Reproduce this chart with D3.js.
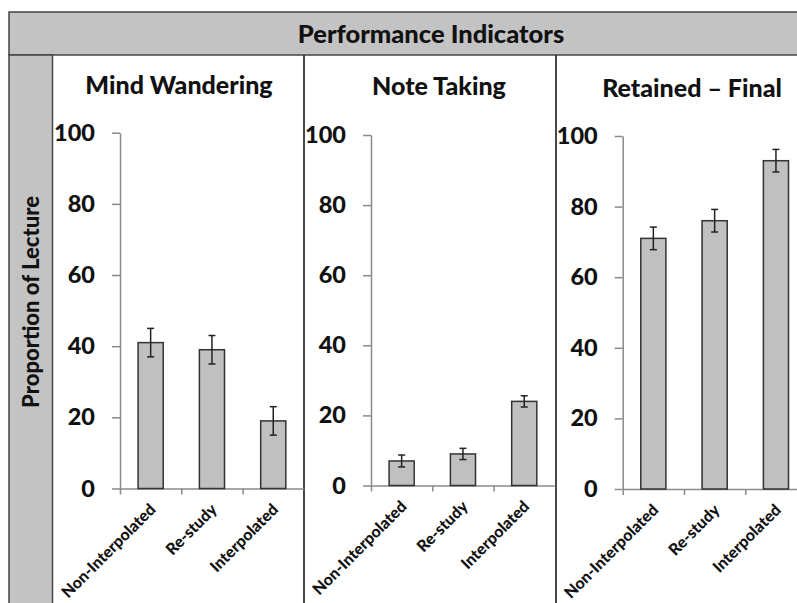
<!DOCTYPE html>
<html>
<head>
<meta charset="utf-8">
<script src="https://cdn.jsdelivr.net/npm/d3@7"></script>
<style>
  body { margin: 0; background: #fff; }
  text { font-family: Lato, "Open Sans", sans-serif; font-weight: 900; fill: #111; }
</style>
</head>
<body>
<div id="canvas"></div>
<script>
var categories = ["Non-Interpolated", "Re-study", "Interpolated"]
var panelTitles = ["Mind Wandering", "Note Taking", "Retained \u2013 Final"]
var mindWandering = [41, 39, 19]
var mindWanderingErr = [4, 4, 4]
var noteTaking = [7, 9, 24]
var noteTakingErr = [1.7, 1.6, 1.6]
var retainedFinal = [71, 76, 93]
var retainedFinalErr = [3.2, 3.2, 3.2]
var yTicks = [0, 20, 40, 60, 80, 100]

var width = 797
var height = 603

var series = [
    { values: mindWandering, errs: mindWanderingErr },
    { values: noteTaking, errs: noteTakingErr },
    { values: retainedFinal, errs: retainedFinalErr }
]

// where each panel sits: axis start, y for 0 and 100, title centre
var layout = [
    { x0: 120, y0: 488.5, y100: 132.7, titleX: 179, titleY: 94 },
    { x0: 371, y0: 485.5, y100: 135, titleX: 439, titleY: 95 },
    { x0: 622.7, y0: 489, y100: 136, titleX: 692, titleY: 96.5 }
]
var step = 61.3

var svg = d3.select("#canvas")
    .append("svg")
    .attr("width", width)
    .attr("height", height)

// header band + left strip
svg.append("rect")
    .attr("x", 9).attr("y", 12)
    .attr("width", width).attr("height", 43)
    .attr("fill", "#c3c3c3")
    .attr("stroke", "#444")
    .attr("stroke-width", 1.5)

svg.append("rect")
    .attr("x", 9).attr("y", 55)
    .attr("width", 43.5).attr("height", height)
    .attr("fill", "#c3c3c3")
    .attr("stroke", "#444")
    .attr("stroke-width", 1.5)

svg.append("text")
    .attr("x", 431).attr("y", 42.5)
    .attr("text-anchor", "middle")
    .style("font-size", "25.5px")
    .text("Performance Indicators")

svg.append("text")
    .attr("transform", "translate(39,302) rotate(-90)")
    .attr("text-anchor", "middle")
    .style("font-size", "22px")
    .text("Proportion of Lecture")

// panel dividers
;[304, 556].forEach(function (x) {
    svg.append("line")
        .attr("x1", x).attr("x2", x)
        .attr("y1", 55).attr("y2", height)
        .attr("stroke", "#333")
        .attr("stroke-width", 1.8)
})

series.forEach(function (s, i) {
    var L = layout[i]
    var g = svg.append("g")

    var yScale = d3.scaleLinear().domain([0, 100]).range([L.y0, L.y100])
    var xScale = d3.scaleBand().domain(categories)
        .range([L.x0, L.x0 + 3 * step])
        .paddingInner(0.59).paddingOuter(0.295)
    var xTickScale = d3.scaleLinear().domain([0, 3]).range([L.x0, L.x0 + 3 * step])

    var xAxis = g.append("g")
        .attr("transform", `translate(0,${L.y0})`)
        .call(d3.axisBottom(xTickScale)
            .tickValues([0, 1, 2])
            .tickFormat("")
            .tickSize(6)
            .tickSizeOuter(0))
    xAxis.selectAll("path, line").attr("stroke", "#8a8a8a").attr("stroke-width", 1.5)

    var yAxis = g.append("g")
        .attr("transform", `translate(${L.x0},0)`)
        .call(d3.axisLeft(yScale)
            .tickValues(yTicks)
            .tickSize(8)
            .tickPadding(17)
            .tickSizeOuter(0))
    yAxis.selectAll("path, line").attr("stroke", "#8a8a8a").attr("stroke-width", 1.5)
    yAxis.selectAll("text")
        .style("font-size", "23.5px")
        .style("font-family", "Lato, sans-serif")
        .style("font-weight", 900)
        .attr("fill", "#111")

    g.selectAll(".bar")
        .data(s.values)
        .enter()
        .append("rect")
        .attr("x", function (d, j) { return xScale(categories[j]) })
        .attr("y", function (d) { return yScale(d) })
        .attr("width", xScale.bandwidth())
        .attr("height", function (d) { return L.y0 - yScale(d) })
        .attr("fill", "#c0c0c0")
        .attr("stroke", "#333")
        .attr("stroke-width", 1.5)

    // error bars
    var err = g.selectAll(".err")
        .data(s.values)
        .enter()
        .append("g")
        .attr("stroke", "#222")
        .attr("stroke-width", 1.5)
    err.append("line")
        .attr("x1", function (d, j) { return xScale(categories[j]) + xScale.bandwidth() / 2 })
        .attr("x2", function (d, j) { return xScale(categories[j]) + xScale.bandwidth() / 2 })
        .attr("y1", function (d, j) { return yScale(d + s.errs[j]) })
        .attr("y2", function (d, j) { return yScale(d - s.errs[j]) })
    ;[1, -1].forEach(function (sign) {
        err.append("line")
            .attr("x1", function (d, j) { return xScale(categories[j]) + xScale.bandwidth() / 2 - 3.5 })
            .attr("x2", function (d, j) { return xScale(categories[j]) + xScale.bandwidth() / 2 + 3.5 })
            .attr("y1", function (d, j) { return yScale(d + sign * s.errs[j]) })
            .attr("y2", function (d, j) { return yScale(d + sign * s.errs[j]) })
    })

    // category labels, slanted
    g.selectAll(".cat")
        .data(categories)
        .enter()
        .append("text")
        .attr("text-anchor", "end")
        .style("font-size", "16px")
        .attr("transform", function (d) {
            var cx = xScale(d) + xScale.bandwidth() / 2 + 6
            return `translate(${cx},${L.y0 + 22}) rotate(-45)`
        })
        .text(function (d) { return d })

    g.append("text")
        .attr("x", L.titleX).attr("y", L.titleY)
        .attr("text-anchor", "middle")
        .style("font-size", "25px")
        .text(panelTitles[i])
})
</script>
</body>
</html>
